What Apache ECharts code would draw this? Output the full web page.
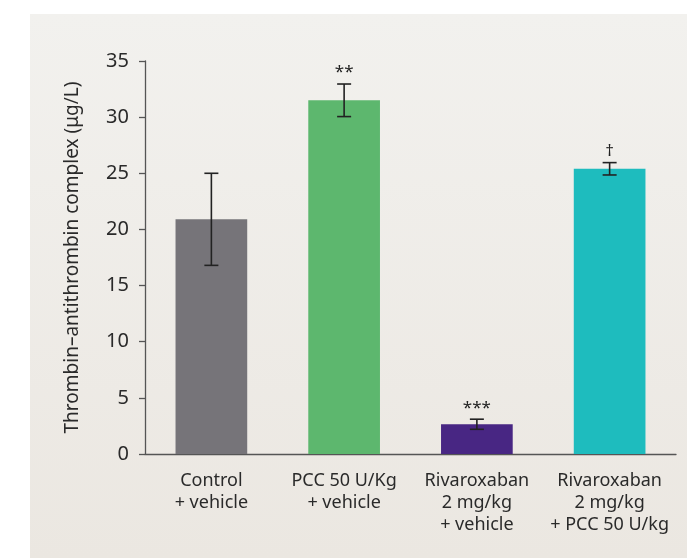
<!DOCTYPE html>
<html>
<head>
<meta charset="UTF-8">
<title>TAT complex</title>
<script src="https://cdn.jsdelivr.net/npm/echarts@6/dist/echarts.min.js"></script>
<style>
  html, body { margin: 0; padding: 0; background: #fff; }
  #main { width: 687px; height: 558px; }
</style>
</head>
<body>
<div id="main"></div>
<script>
  // data
  const categories = ['Control\n+ vehicle', 'PCC 50 U/Kg\n+ vehicle', 'Rivaroxaban\n2 mg/kg\n+ vehicle', 'Rivaroxaban\n2 mg/kg\n+ PCC 50 U/kg'];
  const values = [20.9, 31.5, 2.65, 25.4];
  const errors = [4.1, 1.45, 0.45, 0.55];
  const marks = ['', '**', '***', '†'];
  const colors = ['#767479', '#5db76e', '#482683', '#1ebcbe'];

  const chart = echarts.init(document.getElementById('main'));
  const font = '"Noto Sans", "Open Sans", sans-serif';

  chart.setOption({
    animation: false,
    graphic: [{
      type: 'rect',
      z: -10,
      shape: { x: 30, y: 14, width: 657, height: 544 },
      style: {
        fill: new echarts.graphic.LinearGradient(0, 0, 0, 1, [
          { offset: 0, color: '#f2f1ee' },
          { offset: 1, color: '#ebe7e1' }
        ])
      }
    }],
    grid: { left: 145, right: 11, top: 61, bottom: 104 },
    xAxis: {
      type: 'category',
      data: categories,
      axisLine: { lineStyle: { color: '#555', width: 1.3 } },
      axisTick: { length: 8, lineStyle: { color: '#555', width: 1.3 } },
      axisLabel: { color: '#2a2a2a', fontSize: 18, fontFamily: font, lineHeight: 22, margin: 16, interval: 0 }
    },
    yAxis: {
      type: 'value',
      min: 0, max: 35, interval: 5,
      name: 'Thrombin–antithrombin complex (μg/L)',
      nameLocation: 'middle',
      nameGap: 63,
      nameTextStyle: { color: '#2a2a2a', fontSize: 19, fontFamily: font },
      splitLine: { show: false },
      axisLine: { show: true, lineStyle: { color: '#555', width: 1.3 } },
      axisTick: { show: true, length: 6, lineStyle: { color: '#555', width: 1.3 } },
      axisLabel: { color: '#2a2a2a', fontSize: 20, fontFamily: font, margin: 16 }
    },
    series: [{
      type: 'bar',
      barWidth: '54%',
      data: values.map((v, i) => ({ value: v, itemStyle: { color: colors[i] } }))
    }, {
      type: 'custom',
      z: 10,
      data: values.map((v, i) => [i, v, errors[i]]),
      renderItem: function (params, api) {
        const i = api.value(0), v = api.value(1), e = api.value(2);
        const top = api.coord([i, v + e]);
        const bot = api.coord([i, v - e]);
        const x = top[0], cw = 7;
        const st = { stroke: '#222', lineWidth: 1.6 };
        return {
          type: 'group',
          children: [
            { type: 'line', shape: { x1: x, y1: top[1], x2: x, y2: bot[1] }, style: st },
            { type: 'line', shape: { x1: x - cw, y1: top[1], x2: x + cw, y2: top[1] }, style: st },
            { type: 'line', shape: { x1: x - cw, y1: bot[1], x2: x + cw, y2: bot[1] }, style: st },
            { type: 'text', x: x, y: top[1] - 3,
              style: { text: marks[params.dataIndex], fill: '#222', fontSize: 17, fontFamily: font, align: 'center', verticalAlign: 'bottom' } }
          ]
        };
      }
    }]
  });
</script>
</body>
</html>
